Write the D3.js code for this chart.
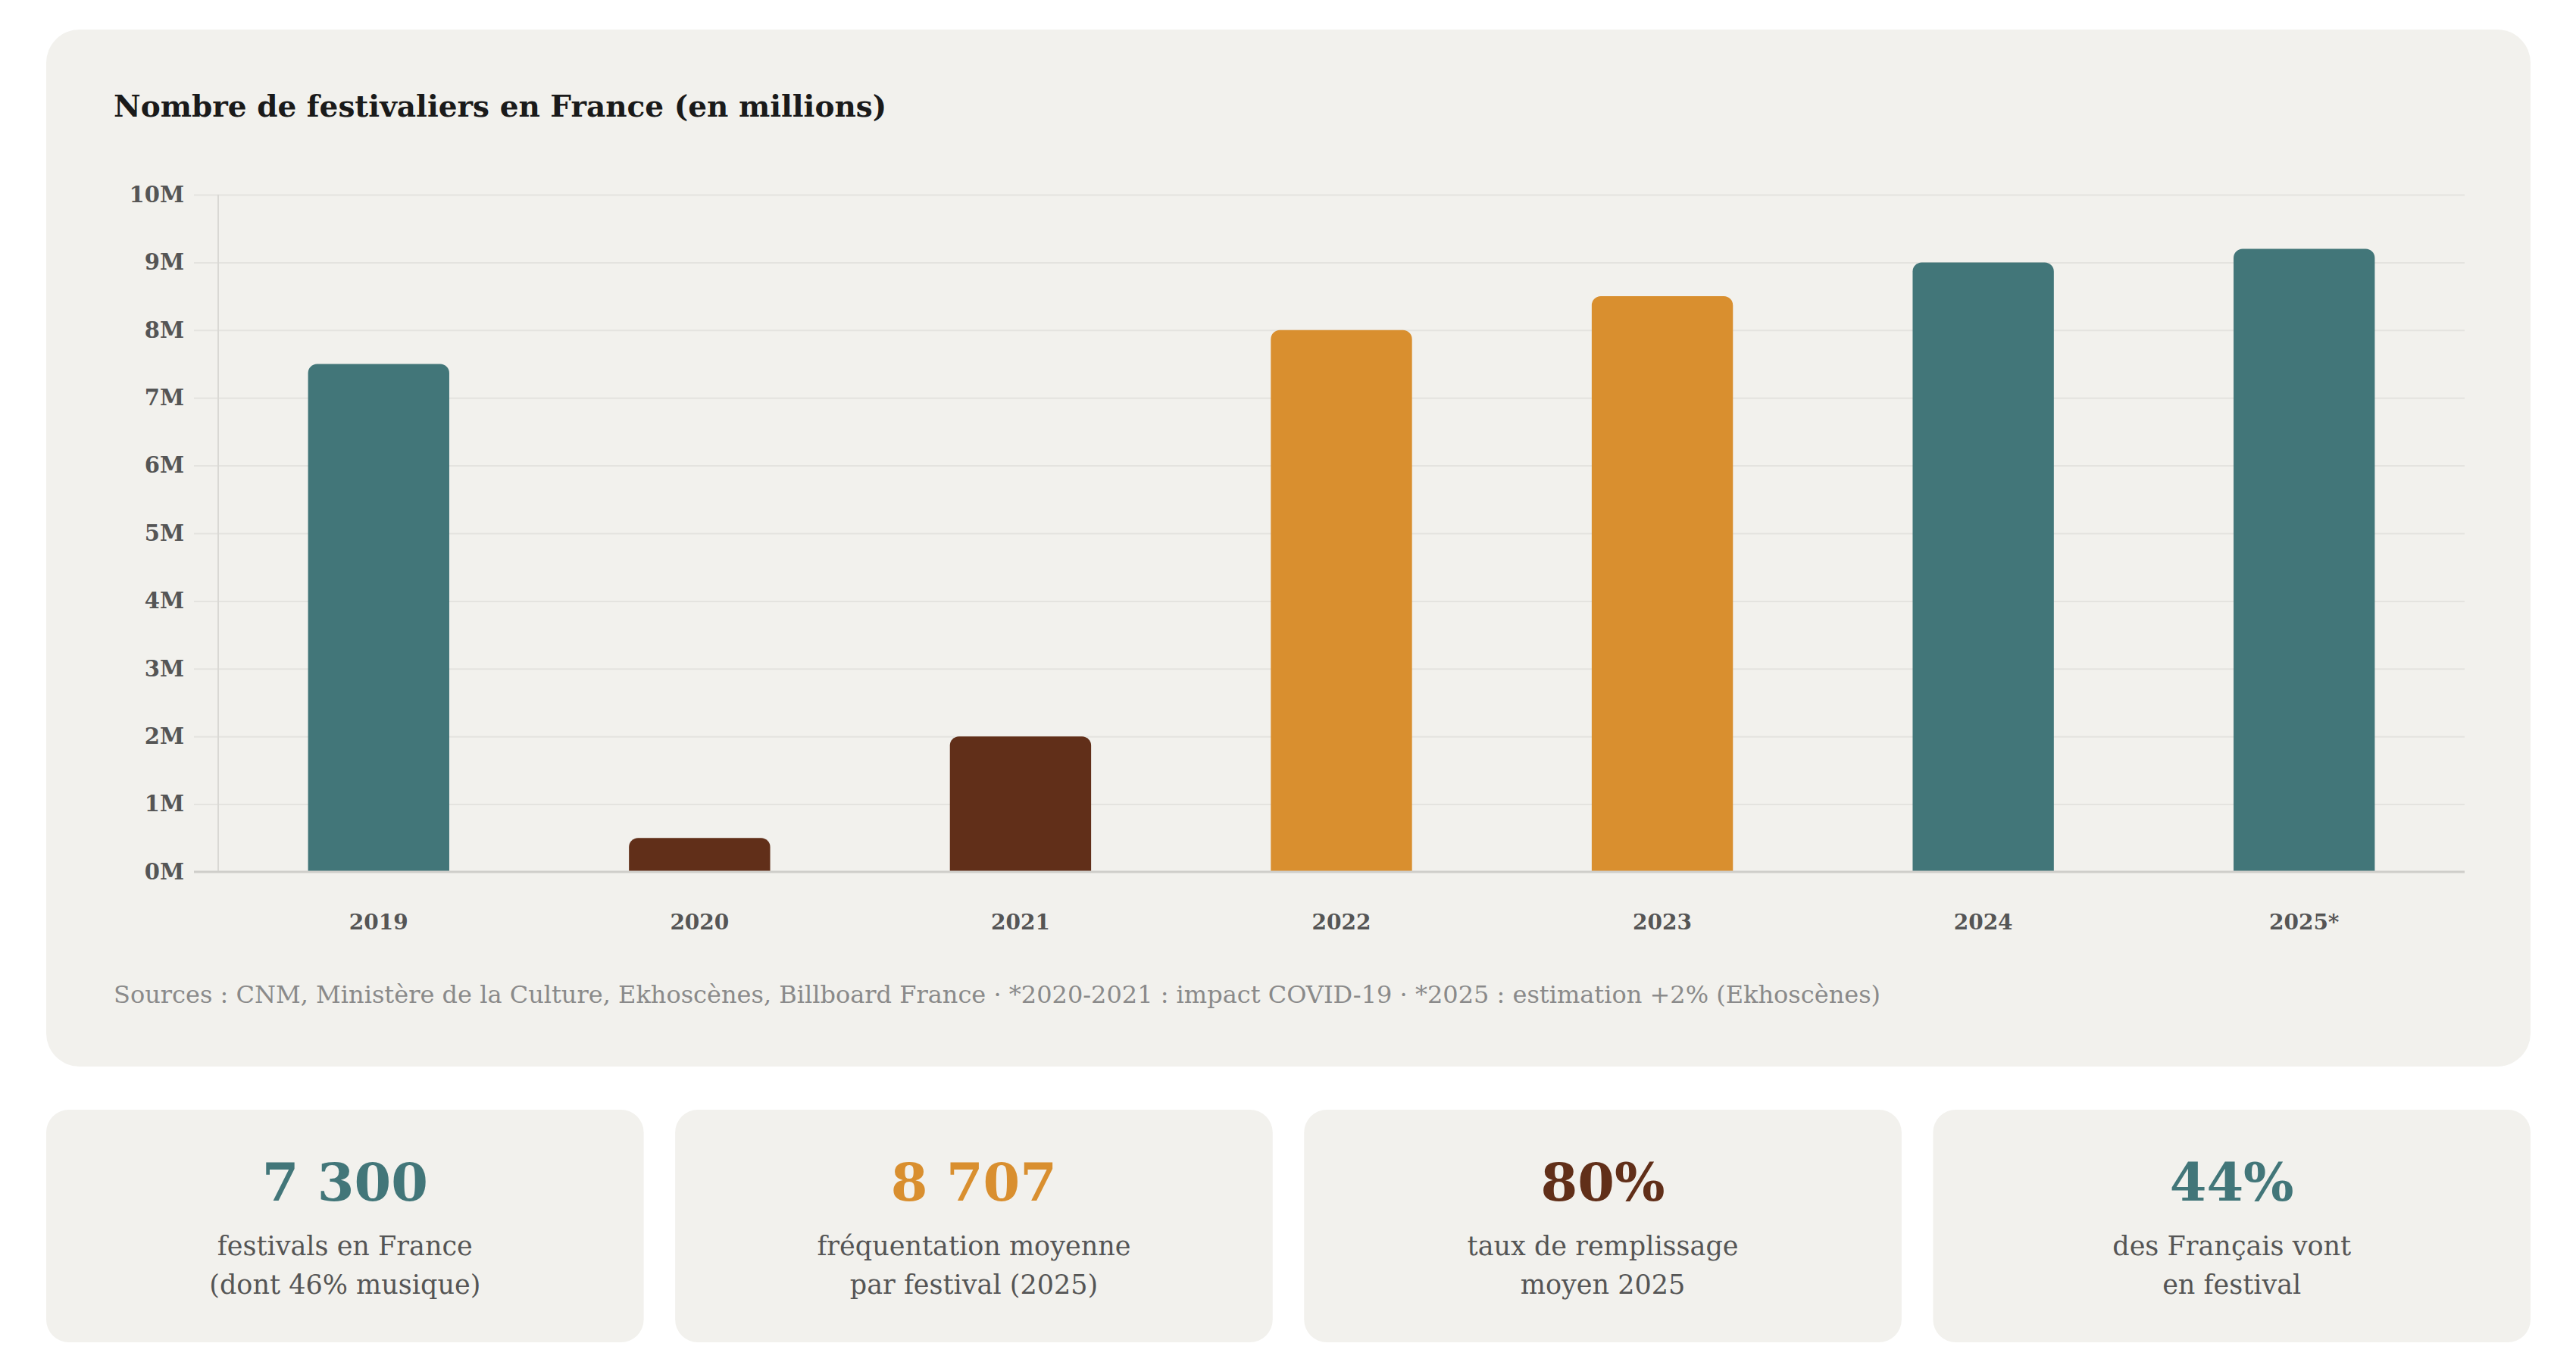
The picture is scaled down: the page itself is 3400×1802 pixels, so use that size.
<!DOCTYPE html>
<html lang="fr">
<head>
<meta charset="utf-8">
<title>Festivaliers en France</title>
<script src="https://cdn.jsdelivr.net/npm/d3@7"></script>
<style>
  html, body { margin: 0; padding: 0; background: #ffffff; }
  svg { display: block; }
  text { font-family: "DejaVu Serif", serif; }
</style>
</head>
<body>
<svg id="chart" width="3400" height="1802"></svg>
<script>
'use strict';

// data
var years        = ["2019", "2020", "2021", "2022", "2023", "2024", "2025*"];
var festivaliers = [7.5, 0.5, 2.0, 8.0, 8.5, 9.0, 9.2];   // millions
var yTicks       = [0, 1, 2, 3, 4, 5, 6, 7, 8, 9, 10];

var statValues = ["7 300", "8 707", "80%", "44%"];
var statLabels = [
    ["festivals en France", "(dont 46% musique)"],
    ["fréquentation moyenne", "par festival (2025)"],
    ["taux de remplissage", "moyen 2025"],
    ["des Français vont", "en festival"]
];

var title  = "Nombre de festivaliers en France (en millions)";
var source = "Sources : CNM, Ministère de la Culture, Ekhoscènes, Billboard France · *2020-2021 : impact COVID-19 · *2025 : estimation +2% (Ekhoscènes)";

var teal = "#427679", brown = "#612f19", orange = "#d98f2f";

var svg = d3.select("#chart");

// main card
var card = {x: 61, y: 39, w: 3279, h: 1369, r: 44};
svg.append("rect")
    .attr("x", card.x).attr("y", card.y)
    .attr("width", card.w).attr("height", card.h)
    .attr("rx", card.r).attr("ry", card.r)
    .attr("fill", "#f2f1ed");

svg.append("text")
    .attr("x", 150).attr("y", 154)
    .attr("fill", "#1a1a1a")
    .style("font-size", "39px")
    .style("font-weight", "bold")
    .text(title);

var plot = {left: 288, right: 3253, top: 257, bottom: 1151};

var xScale = d3.scaleBand()
    .domain(years)
    .range([plot.left, plot.right])
    .paddingInner(0.56)
    .paddingOuter(0.28);

var yScale = d3.scaleLinear()
    .domain([0, 10])
    .range([plot.bottom, plot.top]);

var color = d3.scaleOrdinal()
    .domain(years)
    .range([teal, brown, brown, orange, orange, teal, teal]);

// grid lines + y labels
var yAxis = d3.axisLeft(yScale)
    .tickValues(yTicks)
    .tickFormat(function(d){ return d + "M"; })
    .tickSize(32)
    .tickPadding(13);

var gy = svg.append("g")
    .attr("transform", "translate(" + plot.left + ",0)")
    .call(yAxis);
gy.select(".domain").remove();
gy.selectAll(".tick line")
    .attr("x2", -32)
    .attr("x1", plot.right - plot.left)
    .attr("stroke", "#e4e3df")
    .attr("stroke-width", 2);
gy.selectAll(".tick text")
    .attr("fill", "#555555")
    .style("font-family", "'DejaVu Serif', serif")
    .style("font-size", "29px")
    .style("font-weight", "bold");

// vertical axis line
svg.append("line")
    .attr("x1", plot.left).attr("x2", plot.left)
    .attr("y1", plot.top).attr("y2", plot.bottom)
    .attr("stroke", "#d9d8d4")
    .attr("stroke-width", 2);

// bars, rounded on top only
function topRounded(x, y, w, h, r) {
    r = Math.min(r, h, w / 2);
    return "M" + x + "," + (y + h) +
        "V" + (y + r) +
        "A" + r + "," + r + " 0 0 1 " + (x + r) + "," + y +
        "H" + (x + w - r) +
        "A" + r + "," + r + " 0 0 1 " + (x + w) + "," + (y + r) +
        "V" + (y + h) + "Z";
}

svg.append("g").selectAll("path")
    .data(festivaliers)
    .enter().append("path")
    .attr("d", function(d, i){
        var y0 = yScale(d);
        return topRounded(xScale(years[i]), y0, xScale.bandwidth(), yScale(0) - y0, 12);
    })
    .attr("fill", function(d, i){ return color(years[i]); });

// baseline
svg.append("line")
    .attr("x1", plot.left - 32).attr("x2", plot.right)
    .attr("y1", plot.bottom).attr("y2", plot.bottom)
    .attr("stroke", "#cfceca")
    .attr("stroke-width", 3);

// x labels
var xAxis = d3.axisBottom(xScale).tickSize(0).tickPadding(56);
var gx = svg.append("g")
    .attr("transform", "translate(0," + plot.bottom + ")")
    .call(xAxis);
gx.select(".domain").remove();
gx.selectAll(".tick text")
    .attr("fill", "#555555")
    .style("font-family", "'DejaVu Serif', serif")
    .style("font-size", "28px")
    .style("font-weight", "bold");

// source line
svg.append("text")
    .attr("x", 150).attr("y", 1324)
    .attr("fill", "#8a8a8a")
    .style("font-size", "32px")
    .text(source);

// stat cards
var cardX = d3.scaleBand()
    .domain(d3.range(statValues.length))
    .range([61, 3340])
    .paddingInner(0.05);
var statColor = [teal, orange, brown, teal];

var cards = svg.append("g").selectAll("g")
    .data(statValues)
    .enter().append("g")
    .attr("transform", function(d, i){ return "translate(" + cardX(i) + ",1465)"; });

cards.append("rect")
    .attr("width", cardX.bandwidth())
    .attr("height", 307)
    .attr("rx", 30).attr("ry", 30)
    .attr("fill", "#f2f1ed");

cards.append("text")
    .attr("x", cardX.bandwidth() / 2)
    .attr("y", 120)
    .attr("text-anchor", "middle")
    .attr("fill", function(d, i){ return statColor[i]; })
    .style("font-size", "70px")
    .style("font-weight", "bold")
    .text(function(d){ return d; });

cards.each(function(d, i){
    var g = d3.select(this);
    statLabels[i].forEach(function(line, j){
        g.append("text")
            .attr("x", cardX.bandwidth() / 2)
            .attr("y", 192 + j * 51)
            .attr("text-anchor", "middle")
            .attr("fill", "#555555")
            .style("font-size", "35px")
            .text(line);
    });
});
</script>
</body>
</html>
